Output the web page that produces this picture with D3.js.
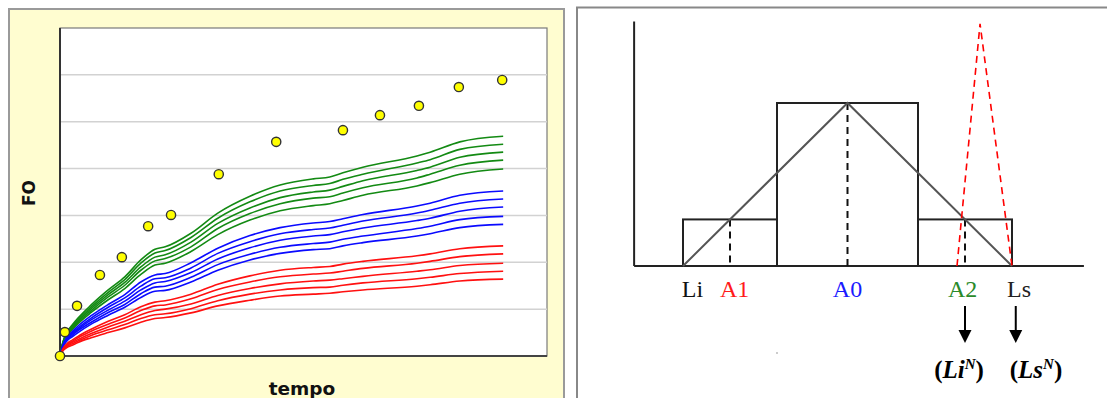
<!DOCTYPE html>
<html><head><meta charset="utf-8">
<script src="https://cdn.jsdelivr.net/npm/d3@7/dist/d3.min.js"></script>
<style>html,body{margin:0;padding:0;background:#fff;overflow:hidden}</style>
</head><body>
<svg id="c" width="1107" height="398"></svg>
<script>
// ---------- LEFT CHART DATA ----------
const tempo = [0, 0.6, 1.4, 2.5, 3.7, 6.4, 9.9, 13.3, 16.6, 19.5, 21.6, 26.9, 32.4, 39.0, 45.2, 52.0, 55.4, 58.1, 62.2, 73.3, 76.0, 82.1, 91.0];
const green1 = [0, 3.0, 5.1, 6.6, 8.1, 10.9, 14.1, 16.9, 20.5, 22.8, 23.3, 26.2, 30.5, 34.1, 36.5, 37.8, 38.2, 39.1, 40.3, 42.7, 43.5, 45.7, 46.9];
const green2 = [0, 2.9, 4.9, 6.4, 7.8, 10.5, 13.6, 16.3, 19.8, 22.0, 22.5, 25.3, 29.4, 32.9, 35.2, 36.4, 36.8, 37.7, 38.8, 41.2, 41.9, 44.1, 45.2];
const green3 = [0, 2.8, 4.7, 6.1, 7.5, 10.1, 13.1, 15.7, 19.0, 21.1, 21.6, 24.3, 28.3, 31.6, 33.8, 35.0, 35.4, 36.2, 37.4, 39.6, 40.3, 42.4, 43.5];
const green4 = [0, 2.7, 4.5, 5.9, 7.2, 9.7, 12.6, 15.1, 18.3, 20.3, 20.8, 23.3, 27.2, 30.4, 32.5, 33.7, 34.0, 34.8, 35.9, 38.0, 38.8, 40.7, 41.8];
const green5 = [0, 2.6, 4.3, 5.6, 6.9, 9.3, 12.0, 14.4, 17.4, 19.4, 19.8, 22.3, 25.9, 29.0, 31.0, 32.1, 32.5, 33.2, 34.3, 36.3, 37.0, 38.8, 39.9];
const blue1 = [0, 2.4, 4.0, 5.2, 6.4, 8.6, 11.0, 13.1, 15.8, 17.3, 17.6, 19.9, 23.0, 25.7, 27.4, 28.4, 28.7, 29.3, 30.2, 32.0, 32.6, 34.3, 35.2];
const blue2 = [0, 2.2, 3.8, 4.9, 6.0, 8.1, 10.4, 12.4, 14.9, 16.5, 16.7, 18.8, 21.9, 24.4, 26.1, 27.0, 27.3, 27.9, 28.8, 30.5, 31.1, 32.6, 33.5];
const blue3 = [0, 2.1, 3.6, 4.7, 5.7, 7.7, 9.8, 11.7, 14.1, 15.6, 15.9, 17.8, 20.7, 23.1, 24.7, 25.6, 25.9, 26.5, 27.3, 28.9, 29.4, 30.9, 31.8];
const blue4 = [0, 2.0, 3.3, 4.4, 5.4, 7.2, 9.3, 11.0, 13.3, 14.7, 14.9, 16.8, 19.5, 21.7, 23.2, 24.0, 24.3, 24.9, 25.6, 27.2, 27.7, 29.1, 29.8];
const blue5 = [0, 1.9, 3.2, 4.1, 5.0, 6.8, 8.7, 10.4, 12.5, 13.8, 14.0, 15.8, 18.3, 20.5, 21.9, 22.7, 22.9, 23.5, 24.2, 25.6, 26.1, 27.4, 28.1];
const red1 = [0, 1.5, 2.6, 3.4, 4.2, 5.7, 7.4, 8.8, 10.5, 11.5, 11.8, 13.2, 15.3, 17.1, 18.3, 18.9, 19.1, 19.6, 20.2, 21.4, 21.8, 22.9, 23.5];
const red2 = [0, 1.4, 2.4, 3.1, 3.9, 5.3, 6.8, 8.1, 9.7, 10.7, 10.9, 12.2, 14.2, 15.8, 16.9, 17.5, 17.7, 18.1, 18.7, 19.8, 20.2, 21.2, 21.8];
const red3 = [0, 1.3, 2.2, 2.9, 3.5, 4.8, 6.2, 7.4, 8.8, 9.7, 10.0, 11.1, 12.9, 14.4, 15.4, 16.0, 16.2, 16.5, 17.0, 18.1, 18.4, 19.3, 19.8];
const red4 = [0, 1.2, 2.0, 2.6, 3.2, 4.4, 5.6, 6.7, 8.0, 8.8, 9.0, 10.1, 11.8, 13.2, 14.1, 14.6, 14.7, 15.1, 15.6, 16.5, 16.8, 17.6, 18.1];
const red5 = [0, 1.1, 1.8, 2.3, 2.9, 3.9, 5.0, 6.0, 7.2, 8.0, 8.2, 9.2, 10.7, 11.9, 12.8, 13.2, 13.4, 13.7, 14.1, 14.9, 15.2, 16.0, 16.4];
const obsTempo = [0, 1.0, 3.5, 8.2, 12.7, 18.1, 22.8, 32.6, 44.4, 58.1, 65.7, 73.7, 81.9, 90.8];
const obsFO = [0, 5.1, 10.7, 17.3, 21.1, 27.7, 30.1, 38.8, 45.7, 48.2, 51.4, 53.4, 57.4, 58.9];
const gridTicks = [0, 10, 20, 30, 40, 50, 60, 70];

// ---------- RIGHT CHART DATA ----------
const binEdges = [1, 3, 6, 8];
const binHeights = [1, 3.5, 1];
const triX = [1, 4.5, 8];
const triY = [0, 3.5, 0];
const newTriX = [6.83, 7.32, 8];
const newTriY = [0, 5.2, 0];
const guideX = [2, 4.5, 7];
const guideY = [1, 3.5, 1];
const labelNames = ["Li", "A1", "A0", "A2", "Ls"];
const labelX = [1.2, 2.1, 4.5, 6.95, 8.15];
const labelColors = ["#111", "#ff1a1a", "#1a1aff", "#2a8a2a", "#222"];
const arrowX = [7, 8.08];

const svg = d3.select("#c");

// ================= LEFT PANEL =================
svg.append("rect").attr("x", 9).attr("y", 9).attr("width", 555).attr("height", 400)
  .attr("fill", "#fffdd0").attr("stroke", "#9a9a9a").attr("stroke-width", 2);

const lx = d3.scaleLinear().domain([0, 100]).range([60, 547]);
const ly = d3.scaleLinear().domain([0, 70]).range([356, 28]);

svg.append("rect").attr("x", lx(0)).attr("y", ly(70)).attr("width", lx(100) - lx(0)).attr("height", ly(0) - ly(70))
  .attr("fill", "#fff").attr("stroke", "#7a7a7a").attr("stroke-width", 1.2);

svg.append("g").selectAll("line").data(gridTicks.slice(1, -1)).join("line")
  .attr("x1", lx(0)).attr("x2", lx(100)).attr("y1", d => ly(d)).attr("y2", d => ly(d))
  .attr("stroke", "#d2d2d2").attr("stroke-width", 1.5);

// axes
svg.append("line").attr("x1", lx(0)).attr("x2", lx(0)).attr("y1", ly(70)).attr("y2", ly(0)).attr("stroke", "#333").attr("stroke-width", 2);
svg.append("line").attr("x1", lx(0)).attr("x2", lx(100)).attr("y1", ly(0)).attr("y2", ly(0)).attr("stroke", "#444").attr("stroke-width", 2.2);

const series = [
  [green1, "#138a13"], [green2, "#138a13"], [green3, "#138a13"], [green4, "#138a13"], [green5, "#138a13"],
  [blue1, "#0a0aff"], [blue2, "#0a0aff"], [blue3, "#0a0aff"], [blue4, "#0a0aff"], [blue5, "#0a0aff"],
  [red1, "#ff1010"], [red2, "#ff1010"], [red3, "#ff1010"], [red4, "#ff1010"], [red5, "#ff1010"]
];
const lineGen = d3.line().x((d, i) => lx(tempo[i])).y(d => ly(d)).curve(d3.curveMonotoneX);
svg.append("g").selectAll("path").data(series).join("path")
  .attr("d", d => lineGen(d[0])).attr("fill", "none").attr("stroke", d => d[1]).attr("stroke-width", 1.6);

svg.append("g").selectAll("circle").data(obsFO).join("circle")
  .attr("cx", (d, i) => lx(obsTempo[i])).attr("cy", d => ly(d)).attr("r", 4.6)
  .attr("fill", "#ffff00").attr("stroke", "#333").attr("stroke-width", 1.4);

svg.append("text").attr("transform", `translate(35,193) rotate(-90)`).attr("text-anchor", "middle")
  .attr("font-family", "DejaVu Sans, Verdana, sans-serif").attr("font-weight", "bold").attr("font-size", 17).attr("fill", "#111").text("FO");
svg.append("text").attr("x", 302).attr("y", 395).attr("text-anchor", "middle")
  .attr("font-family", "DejaVu Sans, Verdana, sans-serif").attr("font-weight", "bold").attr("font-size", 18.5).attr("fill", "#111").text("tempo");

// ================= RIGHT PANEL =================
svg.append("rect").attr("x", 577).attr("y", 7.5).attr("width", 540).attr("height", 400)
  .attr("fill", "#fff").attr("stroke", "#888").attr("stroke-width", 2);

const rx = d3.scaleLinear().domain([1, 8]).range([683, 1012]);
const ry = d3.scaleLinear().domain([0, 5.25]).range([266, 21.5]);

// axes
svg.append("line").attr("x1", rx(-0.04)).attr("x2", rx(-0.04)).attr("y1", ry(5.25)).attr("y2", ry(0)).attr("stroke", "#222").attr("stroke-width", 2);
svg.append("line").attr("x1", rx(-0.04)).attr("x2", rx(9.53)).attr("y1", ry(0)).attr("y2", ry(0)).attr("stroke", "#222").attr("stroke-width", 2);

// histogram boxes
svg.append("g").selectAll("rect").data(binHeights).join("rect")
  .attr("x", (d, i) => rx(binEdges[i])).attr("width", (d, i) => rx(binEdges[i + 1]) - rx(binEdges[i]))
  .attr("y", d => ry(d)).attr("height", d => ry(0) - ry(d))
  .attr("fill", "none").attr("stroke", "#222").attr("stroke-width", 2);

// dashed guide lines
svg.append("g").selectAll("line").data(guideX).join("line")
  .attr("x1", d => rx(d)).attr("x2", d => rx(d)).attr("y1", (d, i) => ry(guideY[i])).attr("y2", ry(0))
  .attr("stroke", "#111").attr("stroke-width", 2).attr("stroke-dasharray", "7,5");

// triangular membership
const triLine = d3.line().x((d, i) => rx(triX[i])).y(d => ry(d));
svg.append("path").attr("d", triLine(triY)).attr("fill", "none").attr("stroke", "#555").attr("stroke-width", 2);

// new narrow red dashed triangle
const newLine = d3.line().x((d, i) => rx(newTriX[i])).y(d => ry(d));
svg.append("path").attr("d", newLine(newTriY)).attr("fill", "none").attr("stroke", "#ff0000").attr("stroke-width", 1.6).attr("stroke-dasharray", "7,5");

// labels
svg.append("g").selectAll("text").data(labelNames).join("text")
  .attr("x", (d, i) => rx(labelX[i])).attr("y", 297).attr("text-anchor", "middle")
  .attr("font-family", "Liberation Serif, Times New Roman, serif").attr("font-size", 24)
  .attr("fill", (d, i) => labelColors[i]).text(d => d);

// arrows
const arrows = svg.append("g");
arrowX.forEach(a => {
  const x = rx(a);
  arrows.append("line").attr("x1", x).attr("x2", x).attr("y1", 306).attr("y2", 331).attr("stroke", "#000").attr("stroke-width", 2);
  arrows.append("path").attr("d", `M${x - 6.5},${330} L${x + 6.5},${330} L${x},${343} Z`).attr("fill", "#000");
});

// (Li^N) (Ls^N)
const newLabels = [["Li", 959], ["Ls", 1036]];
newLabels.forEach(([t, cx]) => {
  const tx = svg.append("text").attr("x", cx).attr("y", 378).attr("text-anchor", "middle")
    .attr("font-family", "Liberation Serif, Times New Roman, serif").attr("font-weight", "bold").attr("font-size", 25).attr("fill", "#000");
  tx.append("tspan").text("(");
  tx.append("tspan").attr("font-style", "italic").text(t);
  tx.append("tspan").attr("font-style", "italic").attr("font-size", 15).attr("dy", -9).text("N");
  tx.append("tspan").attr("dy", 9).text(")");
});

// tiny mark
svg.append("rect").attr("x", 776).attr("y", 352.5).attr("width", 2).attr("height", 1).attr("fill", "#999");
</script>
</body></html>
